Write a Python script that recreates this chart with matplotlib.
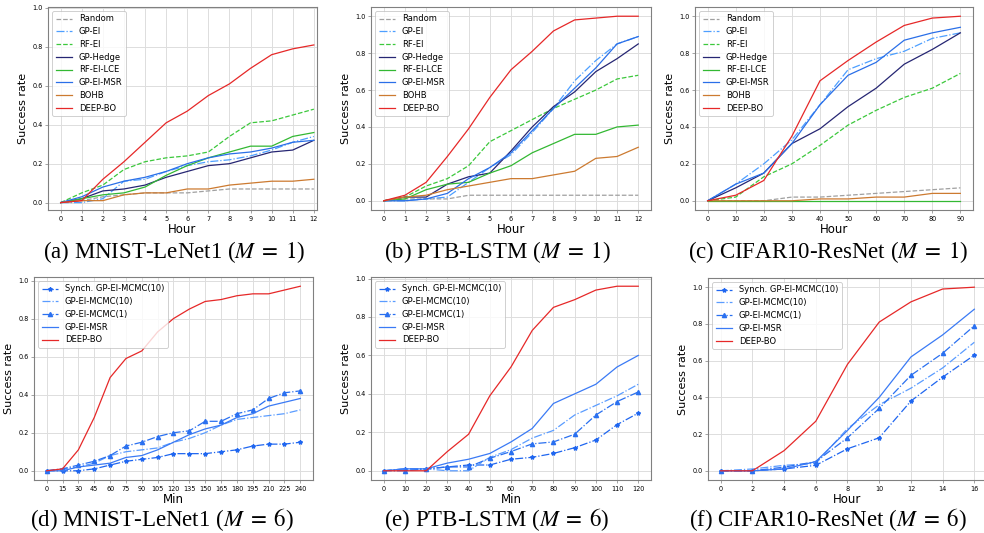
import numpy as np
import matplotlib
matplotlib.use('Agg')
import matplotlib.pyplot as plt

# ---- data, M = 1 ----
hours12 = [0, 1, 2, 3, 4, 5, 6, 7, 8, 9, 10, 11, 12]
hours90 = [0, 10, 20, 30, 40, 50, 60, 70, 80, 90]

mnist1 = {
    'Random':    [0, 0.01, 0.03, 0.04, 0.05, 0.05, 0.05, 0.06, 0.07, 0.07, 0.07, 0.07, 0.07],
    'GP-EI':     [0, 0.0, 0.02, 0.11, 0.12, 0.16, 0.19, 0.21, 0.22, 0.24, 0.27, 0.31, 0.34],
    'RF-EI':     [0, 0.05, 0.09, 0.17, 0.21, 0.23, 0.24, 0.26, 0.34, 0.41, 0.42, 0.45, 0.48],
    'GP-Hedge':  [0, 0.02, 0.06, 0.07, 0.09, 0.13, 0.16, 0.19, 0.20, 0.23, 0.26, 0.27, 0.32],
    'RF-EI-LCE': [0, 0.02, 0.04, 0.05, 0.08, 0.14, 0.19, 0.23, 0.26, 0.29, 0.29, 0.34, 0.36],
    'GP-EI-MSR': [0, 0.03, 0.08, 0.11, 0.13, 0.16, 0.20, 0.23, 0.25, 0.26, 0.28, 0.31, 0.32],
    'BOHB':      [0, 0.01, 0.01, 0.04, 0.05, 0.05, 0.07, 0.07, 0.09, 0.10, 0.11, 0.11, 0.12],
    'DEEP-BO':   [0, 0.01, 0.12, 0.21, 0.31, 0.41, 0.47, 0.55, 0.61, 0.69, 0.76, 0.79, 0.81],
}
ptb1 = {
    'Random':    [0, 0.01, 0.01, 0.01, 0.03, 0.03, 0.03, 0.03, 0.03, 0.03, 0.03, 0.03, 0.03],
    'GP-EI':     [0, 0.0, 0.01, 0.02, 0.10, 0.18, 0.25, 0.37, 0.50, 0.65, 0.76, 0.85, 0.89],
    'RF-EI':     [0, 0.02, 0.08, 0.12, 0.19, 0.32, 0.38, 0.44, 0.50, 0.55, 0.60, 0.66, 0.68],
    'GP-Hedge':  [0, 0.02, 0.02, 0.09, 0.13, 0.15, 0.27, 0.40, 0.51, 0.59, 0.70, 0.77, 0.85],
    'RF-EI-LCE': [0, 0.01, 0.06, 0.09, 0.10, 0.15, 0.19, 0.26, 0.31, 0.36, 0.36, 0.40, 0.41],
    'GP-EI-MSR': [0, 0.0, 0.01, 0.04, 0.12, 0.18, 0.26, 0.38, 0.50, 0.61, 0.72, 0.85, 0.89],
    'BOHB':      [0, 0.02, 0.03, 0.06, 0.08, 0.10, 0.12, 0.12, 0.14, 0.16, 0.23, 0.24, 0.29],
    'DEEP-BO':   [0, 0.03, 0.10, 0.24, 0.39, 0.56, 0.71, 0.81, 0.92, 0.98, 0.99, 1.0, 1.0],
}
cifar1 = {
    'Random':    [0, 0, 0, 0.02, 0.02, 0.03, 0.04, 0.05, 0.06, 0.07],
    'GP-EI':     [0, 0.09, 0.20, 0.33, 0.52, 0.71, 0.77, 0.81, 0.88, 0.91],
    'RF-EI':     [0, 0.02, 0.13, 0.20, 0.30, 0.41, 0.49, 0.56, 0.61, 0.69],
    'GP-Hedge':  [0, 0.07, 0.15, 0.31, 0.39, 0.51, 0.61, 0.74, 0.82, 0.91],
    'RF-EI-LCE': [0, 0, 0, 0, 0, 0, 0, 0, 0, 0],
    'GP-EI-MSR': [0, 0.09, 0.15, 0.31, 0.52, 0.68, 0.75, 0.87, 0.91, 0.94],
    'BOHB':      [0, 0, 0, 0, 0.01, 0.01, 0.02, 0.02, 0.04, 0.04],
    'DEEP-BO':   [0, 0.03, 0.11, 0.35, 0.65, 0.76, 0.86, 0.95, 0.99, 1.0],
}

# ---- data, M = 6 ----
mins240 = [0, 15, 30, 45, 60, 75, 90, 105, 120, 135, 150, 165, 180, 195, 210, 225, 240]
mins120 = [0, 10, 20, 30, 40, 50, 60, 70, 80, 90, 100, 110, 120]
hours16 = [0, 2, 4, 6, 8, 10, 12, 14, 16]

mnist6 = {
    'Synch. GP-EI-MCMC(10)': [0, 0.0, 0.0, 0.01, 0.03, 0.05, 0.06, 0.07, 0.09, 0.09, 0.09, 0.10, 0.11, 0.13, 0.14, 0.14, 0.15],
    'GP-EI-MCMC(10)':        [0, 0.01, 0.02, 0.04, 0.08, 0.10, 0.11, 0.12, 0.15, 0.17, 0.20, 0.24, 0.27, 0.28, 0.29, 0.30, 0.32],
    'GP-EI-MCMC(1)':         [0, 0.01, 0.03, 0.05, 0.08, 0.13, 0.15, 0.18, 0.20, 0.21, 0.26, 0.26, 0.30, 0.32, 0.38, 0.41, 0.42],
    'GP-EI-MSR':             [0, 0.0, 0.02, 0.03, 0.04, 0.07, 0.08, 0.11, 0.15, 0.19, 0.22, 0.24, 0.28, 0.30, 0.34, 0.36, 0.38],
    'DEEP-BO':               [0, 0.01, 0.11, 0.28, 0.49, 0.59, 0.63, 0.73, 0.80, 0.85, 0.89, 0.90, 0.92, 0.93, 0.93, 0.95, 0.97],
}
ptb6 = {
    'Synch. GP-EI-MCMC(10)': [0, 0.01, 0.01, 0.02, 0.03, 0.03, 0.06, 0.07, 0.09, 0.12, 0.16, 0.24, 0.30],
    'GP-EI-MCMC(10)':        [0, 0.01, 0.01, 0.0, 0.0, 0.07, 0.11, 0.17, 0.21, 0.29, 0.34, 0.39, 0.45],
    'GP-EI-MCMC(1)':         [0, 0.0, 0.01, 0.02, 0.02, 0.065, 0.10, 0.14, 0.15, 0.19, 0.29, 0.36, 0.41],
    'GP-EI-MSR':             [0, 0.01, 0.01, 0.04, 0.06, 0.09, 0.15, 0.22, 0.35, 0.40, 0.45, 0.54, 0.60],
    'DEEP-BO':               [0, 0.0, 0.0, 0.10, 0.19, 0.39, 0.54, 0.73, 0.85, 0.89, 0.94, 0.96, 0.96],
}
cifar6 = {
    'Synch. GP-EI-MCMC(10)': [0, 0.0, 0.01, 0.03, 0.12, 0.18, 0.38, 0.51, 0.63],
    'GP-EI-MCMC(10)':        [0, 0.01, 0.03, 0.04, 0.23, 0.36, 0.45, 0.56, 0.70],
    'GP-EI-MCMC(1)':         [0, 0.0, 0.02, 0.05, 0.18, 0.34, 0.52, 0.64, 0.79],
    'GP-EI-MSR':             [0, 0.0, 0.01, 0.05, 0.22, 0.40, 0.62, 0.74, 0.88],
    'DEEP-BO':               [0, 0.0, 0.11, 0.27, 0.58, 0.81, 0.92, 0.99, 1.0],
}

captions = [r'(a) MNIST-LeNet1 ($M\;=\;1$)', r'(b) PTB-LSTM ($M\;=\;1$)', r'(c) CIFAR10-ResNet ($M\;=\;1$)',
            r'(d) MNIST-LeNet1 ($M\;=\;6$)', r'(e) PTB-LSTM ($M\;=\;6$)', r'(f) CIFAR10-ResNet ($M\;=\;6$)']

# styles: color, linestyle, marker
style1 = {
    'Random':    ('#a0a0a0', '--', None),
    'GP-EI':     ('#4d9fff', '-.', None),
    'RF-EI':     ('#3cc83c', '--', None),
    'GP-Hedge':  ('#262673', '-', None),
    'RF-EI-LCE': ('#33b833', '-', None),
    'GP-EI-MSR': ('#2a6fe8', '-', None),
    'BOHB':      ('#cc7a30', '-', None),
    'DEEP-BO':   ('#e62828', '-', None),
}
style6 = {
    'Synch. GP-EI-MCMC(10)': ('#1f66f0', '-.', '*'),
    'GP-EI-MCMC(10)':        ('#5a9cff', '-.', None),
    'GP-EI-MCMC(1)':         ('#2a70f0', '-.', '^'),
    'GP-EI-MSR':             ('#3a7af5', '-', None),
    'DEEP-BO':               ('#e62828', '-', None),
}

plt.rcParams['mathtext.fontset'] = 'stix'
fig = plt.figure(figsize=(9.84, 5.33), dpi=100)

def panel(rect, x, series, styles, xlabel, xlim=None, ylim=None):
    ax = fig.add_axes(rect)
    for name, ys in series.items():
        c, ls, mk = styles[name]
        ax.plot(x, ys, color=c, ls=ls, lw=0.9, marker=mk, ms=3, label=name)
    ax.set_xticks(x)
    if xlim:
        ax.set_xlim(*xlim)
    if ylim:
        ax.set_ylim(*ylim)
    ax.grid(True, color='#dddddd', lw=0.7)
    ax.set_axisbelow(True)
    for s in ax.spines.values():
        s.set_color('#808080')
        s.set_linewidth(0.8)
    ax.tick_params(labelsize=4.7, length=2, width=0.5, color='#808080', pad=2)
    ax.set_xlabel(xlabel, fontsize=8.5, labelpad=1)
    ax.set_ylabel('Success rate', fontsize=8, labelpad=3)
    leg = ax.legend(loc='upper left', fontsize=6, frameon=True, fancybox=True,
                    borderpad=0.4, labelspacing=0.45, handlelength=2.0)
    leg.get_frame().set_edgecolor('#bbbbbb')
    leg.get_frame().set_linewidth(0.6)
    return ax

W, H = 984, 533
def rect(l, r, t, b):
    return [l / W, 1 - b / H, (r - l) / W, (b - t) / H]

panel(rect(48, 317, 7, 210), hours12, mnist1, style1, 'Hour', xlim=(-0.6, 12.15), ylim=(-0.038, 1.005))
panel(rect(371, 651, 7, 210), hours12, ptb1, style1, 'Hour')
panel(rect(695, 973, 7, 210), hours90, cifar1, style1, 'Hour')
panel(rect(34, 313, 277, 480), mins240, mnist6, style6, 'Min')
panel(rect(371, 651, 277, 480), mins120, ptb6, style6, 'Min')
panel(rect(708, 987, 278, 480), hours16, cifar6, style6, 'Hour')

cap_x = [174, 497, 828, 162, 497, 828]
cap_y = [252, 252, 252, 520, 520, 520]
for t, cx, cy in zip(captions, cap_x, cap_y):
    fig.text(cx / W, 1 - cy / H, t, ha='center', va='center',
             fontsize=16.5, family='Liberation Serif')

fig.savefig('out.png', dpi=100, facecolor='white')
